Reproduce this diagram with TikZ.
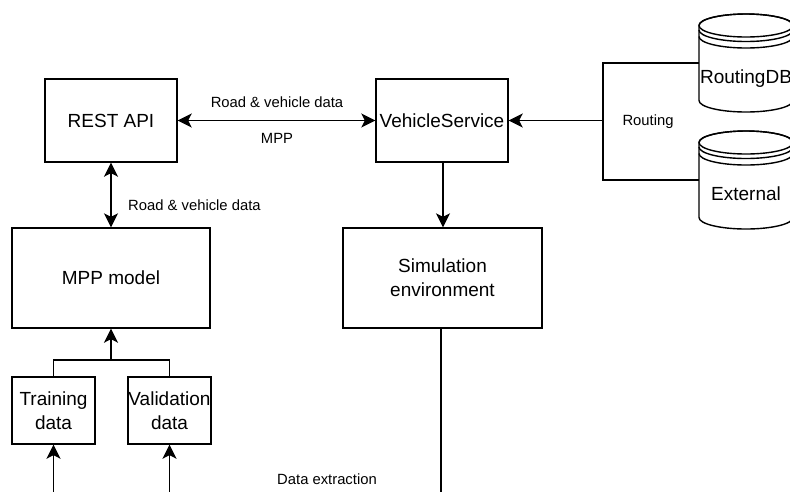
\documentclass[tikz,border=0pt]{standalone}
\usepackage{fontspec}
\setmainfont{Liberation Sans}
\usetikzlibrary{arrows.meta}
\tikzset{
  box/.style={draw, line width=1.4pt, rectangle, inner sep=0pt, align=center, font=\fontsize{19}{24}\selectfont},
  lbl/.style={inner sep=0pt, font=\fontsize{14.8}{18}\selectfont},
  conn/.style={line width=1.4pt},
  tipA/.tip={Stealth[length=14pt,width=14pt,inset=3.5pt]},
  arr/.style={conn, -tipA},
  barr/.style={conn, tipA-tipA},
  dbtext/.style={inner sep=0pt, font=\fontsize{19}{24}\selectfont},
  pics/datastore/.style={code={
    \draw[line width=1.4pt, fill=white] (-47,-37.5) -- (-47,37.5)
      arc[start angle=180, end angle=0, x radius=47, y radius=11.5]
      -- (47,-37.5)
      arc[start angle=0, end angle=-180, x radius=47, y radius=11.5] -- cycle;
    \draw[line width=1.4pt] (0,-37.5) ellipse[x radius=47, y radius=11.5];
    \draw[line width=1.4pt] (-47,-33) arc[start angle=180, end angle=0, x radius=47, y radius=11.5];
    \draw[line width=1.4pt] (-47,-26.5) arc[start angle=180, end angle=0, x radius=47, y radius=11.5];
  }}
}
\begin{document}
\begin{tikzpicture}[x=1pt,y=-1pt]
\useasboundingbox (0,0) rectangle (790,491);
\clip (0,0) rectangle (790,491);
\fill[white] (0,0) rectangle (790,491);

% main boxes
\node[box, minimum width=132pt, minimum height=83pt] (rest) at (111,120.5) {REST API};
\node[box, minimum width=132pt, minimum height=83pt] (vs) at (442,120.5) {VehicleService};
\node[box, minimum width=198pt, minimum height=100pt] (mpp) at (111,278) {MPP model};
\node[box, minimum width=199pt, minimum height=100pt] (sim) at (442.5,278) {Simulation\\environment};
\node[box, minimum width=83pt, minimum height=67pt] (train) at (53.5,410.5) {Training\\data};
\node[box, minimum width=83pt, minimum height=67pt] (valid) at (169.5,410.5) {Validation\\data};

% datastores
\pic at (746,63) {datastore};
\node[minimum width=94pt, minimum height=98pt, inner sep=0pt] (rdb) at (746,63) {};
\node[dbtext] (rdbt) at (746,79) {RoutingDB};
\pic at (746,180) {datastore};
\node[minimum width=94pt, minimum height=100pt, inner sep=0pt] (ext) at (746,180) {};
\node[dbtext] (extt) at (746,194) {External};

% connectors
\draw[barr] (rest) -- (vs);
\node[lbl] (l1) at (277,102) {Road \& vehicle data};
\node[lbl] (l2) at (277,138.5) {MPP};

\draw[barr] (rest) -- (mpp);
\node[lbl, anchor=west] (l3) at (128,205) {Road \& vehicle data};

\draw[arr] (vs.south -| 443,0) -- (sim.north -| 443,0);

\coordinate (rj) at (603,120.5);
\draw[conn] (rdb.west) -| (rj);
\draw[conn] (ext.west) -| (rj);
\draw[arr] (rj) -- (vs.east);
\node[lbl] (l4) at (648,122) {Routing};

\coordinate (jn) at (111,360);
\draw[conn] (train.north) |- (jn) -| (valid.north);
\draw[arr] (jn) -- (mpp.south);

\coordinate (bot) at (0,520);
\draw[conn] (sim.south -| 441,0) -- (441,520);
\draw[arr] (train.south |- bot) -- (train.south);
\draw[arr] (valid.south |- bot) -- (valid.south);
\node[lbl] (l5) at (327,479) {Data extraction};
\end{tikzpicture}
\end{document}
